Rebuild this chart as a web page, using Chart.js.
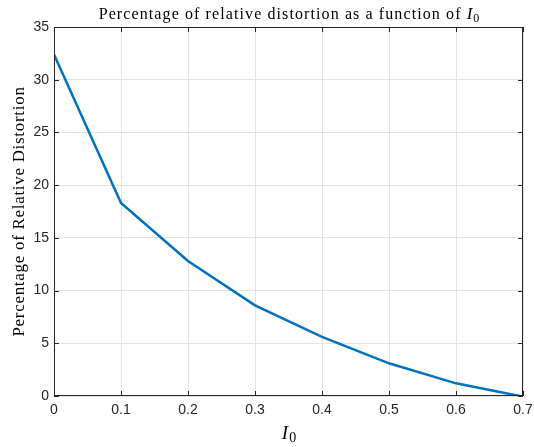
<!DOCTYPE html>
<html>
<head>
<meta charset="utf-8">
<script src="https://cdn.jsdelivr.net/npm/chart.js@4.4.0/dist/chart.umd.min.js"></script>
<style>
  html, body { margin: 0; padding: 0; background: #fff; }
  #wrap { width: 534px; height: 447px; }
</style>
</head>
<body>
<div id="wrap"><canvas id="c" width="534" height="447"></canvas></div>
<script>
// I0 values and distortion percentages
let i0 = [0, 0.1, 0.2, 0.3, 0.4, 0.5, 0.6, 0.695];
let distortion = [32.4, 18.3, 12.8, 8.6, 5.6, 3.1, 1.2, 0];
let xTicks = [0, 0.1, 0.2, 0.3, 0.4, 0.5, 0.6, 0.7];
let yTicks = [0, 5, 10, 15, 20, 25, 30, 35];

const axisCol = '#262626';
const serif = '"Liberation Serif", "DejaVu Serif", serif';
const sans = '"Liberation Sans", Arial, sans-serif';

// box around the axes + inward tick marks, plus the LaTeX-ish labels
const decor = {
  id: 'decor',
  afterDraw(chart) {
    const ctx = chart.ctx, a = chart.chartArea;
    const xs = chart.scales.x, ys = chart.scales.y;
    ctx.save();
    ctx.strokeStyle = axisCol;
    ctx.lineWidth = 1;
    ctx.strokeRect(a.left + 0.5, a.top + 0.5, a.right - a.left - 1, a.bottom - a.top - 1);
    ctx.beginPath();
    xTicks.forEach(v => {
      let px = Math.round(xs.getPixelForValue(v)) + 0.5;
      ctx.moveTo(px, a.bottom); ctx.lineTo(px, a.bottom - 5);
      ctx.moveTo(px, a.top); ctx.lineTo(px, a.top + 5);
    });
    yTicks.forEach(v => {
      let py = Math.round(ys.getPixelForValue(v)) + 0.5;
      ctx.moveTo(a.left, py); ctx.lineTo(a.left + 5, py);
      ctx.moveTo(a.right, py); ctx.lineTo(a.right - 5, py);
    });
    ctx.stroke();

    // title with italic I and subscript 0
    ctx.fillStyle = '#000';
    ctx.textBaseline = 'alphabetic';
    ctx.textAlign = 'left';
    ctx.letterSpacing = '1.1px';
    let t1 = 'Percentage of relative distortion as a function of ';
    ctx.font = '16px ' + serif;
    let w1 = ctx.measureText(t1).width;
    ctx.letterSpacing = '0px';
    ctx.font = 'italic 17px ' + serif;
    let wI = ctx.measureText('I').width;
    ctx.font = '12px ' + serif;
    let w0 = ctx.measureText('0').width;
    let cx = (a.left + a.right) / 2;
    let x0 = cx - (w1 + wI + w0) / 2, by = 19;
    ctx.letterSpacing = '1.1px';
    ctx.font = '16px ' + serif;
    ctx.fillText(t1, x0, by);
    ctx.letterSpacing = '0px';
    ctx.font = 'italic 17px ' + serif;
    ctx.fillText('I', x0 + w1, by);
    ctx.font = '12px ' + serif;
    ctx.fillText('0', x0 + w1 + wI + 1, by + 3);

    // x axis label
    ctx.font = 'italic 19px ' + serif;
    let wx = ctx.measureText('I').width;
    ctx.font = '14px ' + serif;
    let wx0 = ctx.measureText('0').width;
    let lx = cx - (wx + wx0) / 2;
    ctx.font = 'italic 19px ' + serif;
    ctx.fillText('I', lx, 439);
    ctx.font = '14px ' + serif;
    ctx.fillText('0', lx + wx + 1, 442);

    // y axis label
    ctx.translate(24, (a.top + a.bottom) / 2);
    ctx.rotate(-Math.PI / 2);
    ctx.textAlign = 'center';
    ctx.letterSpacing = '0.7px';
    ctx.font = '17px ' + serif;
    ctx.fillText('Percentage of Relative Distortion', 0, 0);
    ctx.restore();
  }
};

new Chart(document.getElementById('c'), {
  type: 'line',
  data: {
    datasets: [{
      data: i0.map((x, k) => ({x: x, y: distortion[k]})),
      borderColor: '#0072BD',
      borderWidth: 2.5,
      pointRadius: 0,
      tension: 0,
      fill: false
    }]
  },
  options: {
    responsive: false,
    animation: false,
    layout: { padding: { left: 0, top: 27, right: 11, bottom: 0 } },
    plugins: { legend: { display: false }, tooltip: { enabled: false }, title: { display: false } },
    scales: {
      x: {
        type: 'linear', min: 0, max: 0.7,
        afterBuildTicks: s => { s.ticks = xTicks.map(v => ({value: v})); },
        afterFit: s => { s.height = 51; s.paddingLeft = 0; s.paddingRight = 0; },
        grid: { color: '#e3e3e3', drawTicks: false, tickLength: 0 },
        border: { display: false },
        ticks: { color: axisCol, padding: 6, maxRotation: 0, font: { family: sans, size: 14 },
                 callback: v => String(v) }
      },
      y: {
        min: 0, max: 35,
        afterBuildTicks: s => { s.ticks = yTicks.map(v => ({value: v})); },
        afterFit: s => { s.width = 54; s.paddingTop = 0; s.paddingBottom = 0; },
        grid: { color: '#e3e3e3', drawTicks: false, tickLength: 0 },
        border: { display: false },
        ticks: { color: axisCol, padding: 5, font: { family: sans, size: 14 } }
      }
    }
  },
  plugins: [decor]
});
</script>
</body>
</html>
